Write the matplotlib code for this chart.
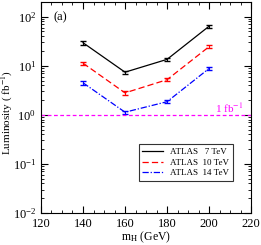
import matplotlib
matplotlib.use('Agg')
import matplotlib.pyplot as plt
from matplotlib.lines import Line2D
from matplotlib.ticker import MultipleLocator, LogLocator, NullFormatter

plt.rcParams['font.family'] = ['Liberation Serif', 'DejaVu Serif']
plt.rcParams['mathtext.fontset'] = 'stix'

mass = [140, 160, 180, 200]
lumi_7 = [29.5, 7.4, 13.5, 64]
lumi_10 = [11.3, 2.8, 5.2, 24.5]
lumi_14 = [4.5, 1.13, 1.85, 8.8]
labels = ['ATLAS   7 TeV', 'ATLAS  10 TeV', 'ATLAS  14 TeV']
rel_err = 0.08

fig = plt.figure(figsize=(2.61, 2.45), dpi=100)
ax = fig.add_axes([0.157, 0.131, 0.805, 0.861])

styles = [('black', '-'), ('red', (0, (5, 2.5))), ('blue', (0, (5, 1.5, 1, 1.5)))]
handles = []
for vals, (col, ls) in zip([lumi_7, lumi_10, lumi_14], styles):
    ax.errorbar(mass, vals, yerr=[v * rel_err for v in vals], color=col, ls=ls,
                lw=0.9, capsize=2.5, elinewidth=0.8)
    handles.append(Line2D([], [], color=col, ls=ls, lw=0.9))

ax.axhline(1.0, color='magenta', ls=(0, (3, 2)), lw=0.9)
ax.text(203, 1.12, '1 fb$^{-1}$', color='magenta', fontsize=8)

ax.set_xlim(120, 220)
ax.set_ylim(1e-2, 2e2)
ax.set_yscale('log')
ax.xaxis.set_major_locator(MultipleLocator(20))
ax.xaxis.set_minor_locator(MultipleLocator(5))
ax.yaxis.set_major_locator(LogLocator(base=10, numticks=10))
ax.yaxis.set_minor_locator(LogLocator(base=10, subs=range(2, 10), numticks=20))
ax.yaxis.set_minor_formatter(NullFormatter())
ax.tick_params(which='both', direction='in', top=True, right=True, labelsize=9)
ax.tick_params(which='major', length=5)
ax.tick_params(which='minor', length=2.5)

ax.set_xlabel('m$_\\mathrm{H}$ (GeV)', fontsize=8.5, labelpad=0)
fig.text(0.03, 0.54, 'Luminosity ( fb$^{-1}$)', fontsize=8, rotation=90,
         ha='center', va='center')
ax.text(0.06, 0.915, '(a)', transform=ax.transAxes, fontsize=9)

leg = ax.legend(handles, labels, loc='lower right', bbox_to_anchor=(0.935, 0.13), fontsize=6.5,
                frameon=True, fancybox=False, edgecolor='black', handlelength=2.3,
                borderpad=0.4, labelspacing=0.25)
leg.get_frame().set_linewidth(0.8)

fig.savefig('out.png', dpi=100)
